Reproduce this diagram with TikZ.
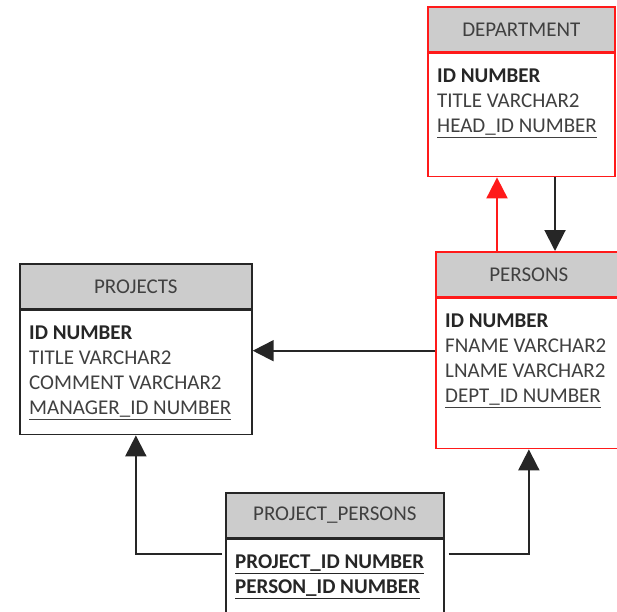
\documentclass[tikz,border=0pt]{standalone}
\usepackage{fontspec}
\setmainfont{Carlito}
\usetikzlibrary{positioning,arrows.meta,calc}
\definecolor{headgray}{HTML}{CCCCCC}
\definecolor{inkgray}{HTML}{404040}
\definecolor{inkdark}{HTML}{262626}
\definecolor{tabred}{HTML}{FF1A1A}
\newcommand{\keyfield}[1]{\textcolor{inkdark}{\textbf{#1}}}

\tikzset{
  tabhead/.style={draw=inkdark, fill=headgray, line width=1.7pt, minimum height=45pt,
    text=inkgray, inner sep=0pt, font=\fontsize{21}{25}\selectfont},
  tabbody/.style={draw=inkdark, fill=white, line width=1.7pt, inner sep=0pt},
  fields/.style={anchor=north west, align=left, inner sep=0pt, text=inkgray,
    font=\fontsize{21}{25}\selectfont},
  ref/.style={line width=2pt, draw=inkdark, -{Triangle[width=21pt,length=21pt]}},
}

\begin{document}
\begin{tikzpicture}[x=1pt, y={(0pt,-1pt)}]
  \useasboundingbox (0,0) rectangle (617,611);

  % DEPARTMENT
  \node[tabhead, draw=tabred, minimum width=187pt, anchor=north west] (dephead) at (427,6) {DEPARTMENT};
  \node[tabbody, draw=tabred, minimum width=187pt, minimum height=123pt, below=0pt of dephead] (depbody) {};
  \node[fields] (depfields) at ($(depbody.north west)+(10,16)$)
    {\keyfield{ID NUMBER}\\ TITLE VARCHAR2\\ \underline{HEAD\_ID NUMBER}};

  % PERSONS
  \node[tabhead, draw=tabred, minimum width=186pt, anchor=north west] (perhead) at (435,251) {PERSONS};
  \node[tabbody, draw=tabred, minimum width=186pt, minimum height=150pt, below=0pt of perhead] (perbody) {};
  \node[fields] (perfields) at ($(perbody.north west)+(10,16)$)
    {\keyfield{ID NUMBER}\\ FNAME VARCHAR2\\ LNAME VARCHAR2\\ \underline{DEPT\_ID NUMBER}};

  % PROJECTS
  \node[tabhead, minimum width=232pt, anchor=north west] (projhead) at (19,263) {PROJECTS};
  \node[tabbody, minimum width=232pt, minimum height=124pt, below=0pt of projhead] (projbody) {};
  \node[fields] (projfields) at ($(projbody.north west)+(10,16)$)
    {\keyfield{ID NUMBER}\\ TITLE VARCHAR2\\ COMMENT VARCHAR2\\ \underline{MANAGER\_ID NUMBER}};

  % PROJECT_PERSONS
  \node[tabhead, minimum width=218pt, anchor=north west] (pphead) at (225,492) {PROJECT\_PERSONS};
  \node[tabbody, minimum width=218pt, minimum height=100pt, below=0pt of pphead] (ppbody) {};
  \node[fields] (ppfields) at ($(ppbody.north west)+(10,16)$)
    {\keyfield{\underline{PROJECT\_ID NUMBER}}\\ \keyfield{\underline{PERSON\_ID NUMBER}}};

  % references
  \coordinate (deptref) at ($(perhead.north west)+(62,0)$);
  \coordinate (headref) at ($(depbody.south west)+(128,0)$);
  \coordinate (projref) at ($(perbody.north west)+(0,53)$);
  \coordinate (ppleft) at ($(ppbody.north west)+(-3,15)$);
  \coordinate (ppright) at ($(ppbody.north east)+(4,15)$);

  \draw[ref, draw=tabred] (deptref) -- (deptref |- depbody.south);
  \draw[ref] (headref) -- (headref |- perhead.north);
  \draw[ref] (projref) -- (projref -| projbody.east);
  \draw[ref] (ppleft) -| (projbody.south);
  \draw[ref] (ppright) -| (perbody.south);
\end{tikzpicture}
\end{document}
